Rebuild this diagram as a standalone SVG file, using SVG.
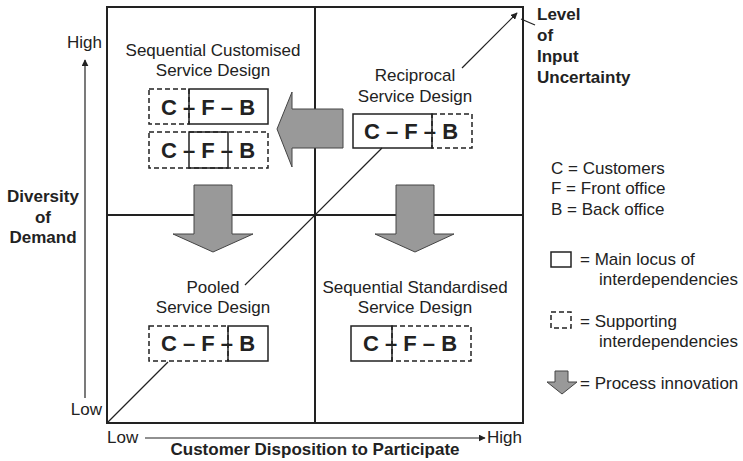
<svg xmlns="http://www.w3.org/2000/svg" width="743" height="461" viewBox="0 0 743 461">
<style>
text{font-family:"Liberation Sans",Arial,sans-serif;fill:#222;font-size:17px}
.b{font-weight:bold}
.m{text-anchor:middle}
.cfb{font-weight:bold;font-size:22px;text-anchor:middle}
.solid{fill:none;stroke:#222;stroke-width:1.5}
.dash{fill:none;stroke:#222;stroke-width:1.5;stroke-dasharray:5,3}
.frame{fill:none;stroke:#222;stroke-width:2}
.thin{fill:none;stroke:#222;stroke-width:1.2}
.big{fill:#999;stroke:#444;stroke-width:1}
</style>
<defs>
<marker id="ah" viewBox="0 0 10 10" refX="9" refY="5" markerWidth="7" markerHeight="7" orient="auto" markerUnits="userSpaceOnUse">
<path d="M0,0 L10,5 L0,10 z" fill="#222"/>
</marker>
</defs>
<rect width="743" height="461" fill="#fff"/>

<g id="frame">
<rect class="frame" x="107" y="7" width="416" height="416"/>
<line class="frame" x1="315" y1="7" x2="315" y2="423"/>
<line class="frame" x1="107" y1="215" x2="523" y2="215"/>
</g>

<g id="connectors">
<line class="thin" x1="107" y1="423" x2="168" y2="362"/>
<line class="thin" x1="245" y1="285" x2="382" y2="148"/>
<line class="thin" x1="462" y1="68" x2="517" y2="13" marker-end="url(#ah)"/>
<line class="thin" x1="521" y1="19" x2="535" y2="25"/>
<polygon class="big" points="343,109 292,109 292,92 277,129 292,167 292,148 343,148"/>
<polygon class="big" points="194,185 232,185 232,234 253,234 213,252 173,234 194,234"/>
<polygon class="big" points="396,185 434,185 434,234 454,234 415,252 375,234 396,234"/>
<line class="thin" x1="85" y1="398" x2="85" y2="60" marker-end="url(#ah)"/>
<line class="thin" x1="145" y1="438" x2="485" y2="438" marker-end="url(#ah)"/>
</g>

<g id="seq-customised">
<text class="m" x="213" y="56">Sequential Customised</text>
<text class="m" x="213" y="76">Service Design</text>
<rect class="dash" x="149" y="89" width="40" height="35"/>
<rect class="solid" x="189" y="89" width="79" height="35"/>
<text class="cfb" x="208" y="115">C – F – B</text>
<rect class="dash" x="149" y="132" width="119" height="36"/>
<rect class="solid" x="189" y="132" width="39" height="36"/>
<text class="cfb" x="208" y="158">C – F – B</text>
</g>

<g id="reciprocal">
<text class="m" x="415" y="81">Reciprocal</text>
<text class="m" x="415" y="102">Service Design</text>
<rect class="dash" x="432" y="114" width="40" height="34"/>
<rect class="solid" x="353" y="114" width="79" height="34"/>
<text class="cfb" x="411" y="139">C – F – B</text>
</g>

<g id="pooled">
<text class="m" x="213" y="293">Pooled</text>
<text class="m" x="213" y="313">Service Design</text>
<rect class="dash" x="149" y="326" width="79" height="35"/>
<rect class="solid" x="228" y="326" width="40" height="35"/>
<text class="cfb" x="208" y="351">C – F – B</text>
</g>

<g id="seq-standardised">
<text class="m" x="415" y="293">Sequential Standardised</text>
<text class="m" x="415" y="313">Service Design</text>
<rect class="dash" x="392" y="326" width="79" height="35"/>
<rect class="solid" x="351" y="326" width="41" height="35"/>
<text class="cfb" x="410" y="351">C – F – B</text>
</g>

<g id="axis-labels">
<text x="102" y="48" text-anchor="end">High</text>
<text x="102" y="415" text-anchor="end">Low</text>
<text class="b m" x="43" y="202">Diversity</text>
<text class="b m" x="43" y="223">of</text>
<text class="b m" x="43" y="243">Demand</text>
<text x="107" y="443">Low</text>
<text x="487" y="443">High</text>
<text class="b m" x="315" y="455">Customer Disposition to Participate</text>
<text class="b" x="537" y="20">Level</text>
<text class="b" x="537" y="41">of</text>
<text class="b" x="537" y="62">Input</text>
<text class="b" x="537" y="83">Uncertainty</text>
</g>

<g id="legend">
<text x="551" y="174">C = Customers</text>
<text x="551" y="194">F = Front office</text>
<text x="551" y="215">B = Back office</text>
<rect class="solid" x="551" y="252" width="20" height="15"/>
<text x="580" y="265">= Main locus of</text>
<text x="599" y="285" font-size="16.5">interdependencies</text>
<rect class="dash" x="551" y="312" width="20" height="16" stroke-dasharray="4,3"/>
<text x="580" y="327">= Supporting</text>
<text x="599" y="347" font-size="16.5">interdependencies</text>
<polygon class="big" points="555,371 568,371 568,382 577,382 562,394 547,382 555,382"/>
<text x="580" y="389">= Process innovation</text>
</g>
</svg>
